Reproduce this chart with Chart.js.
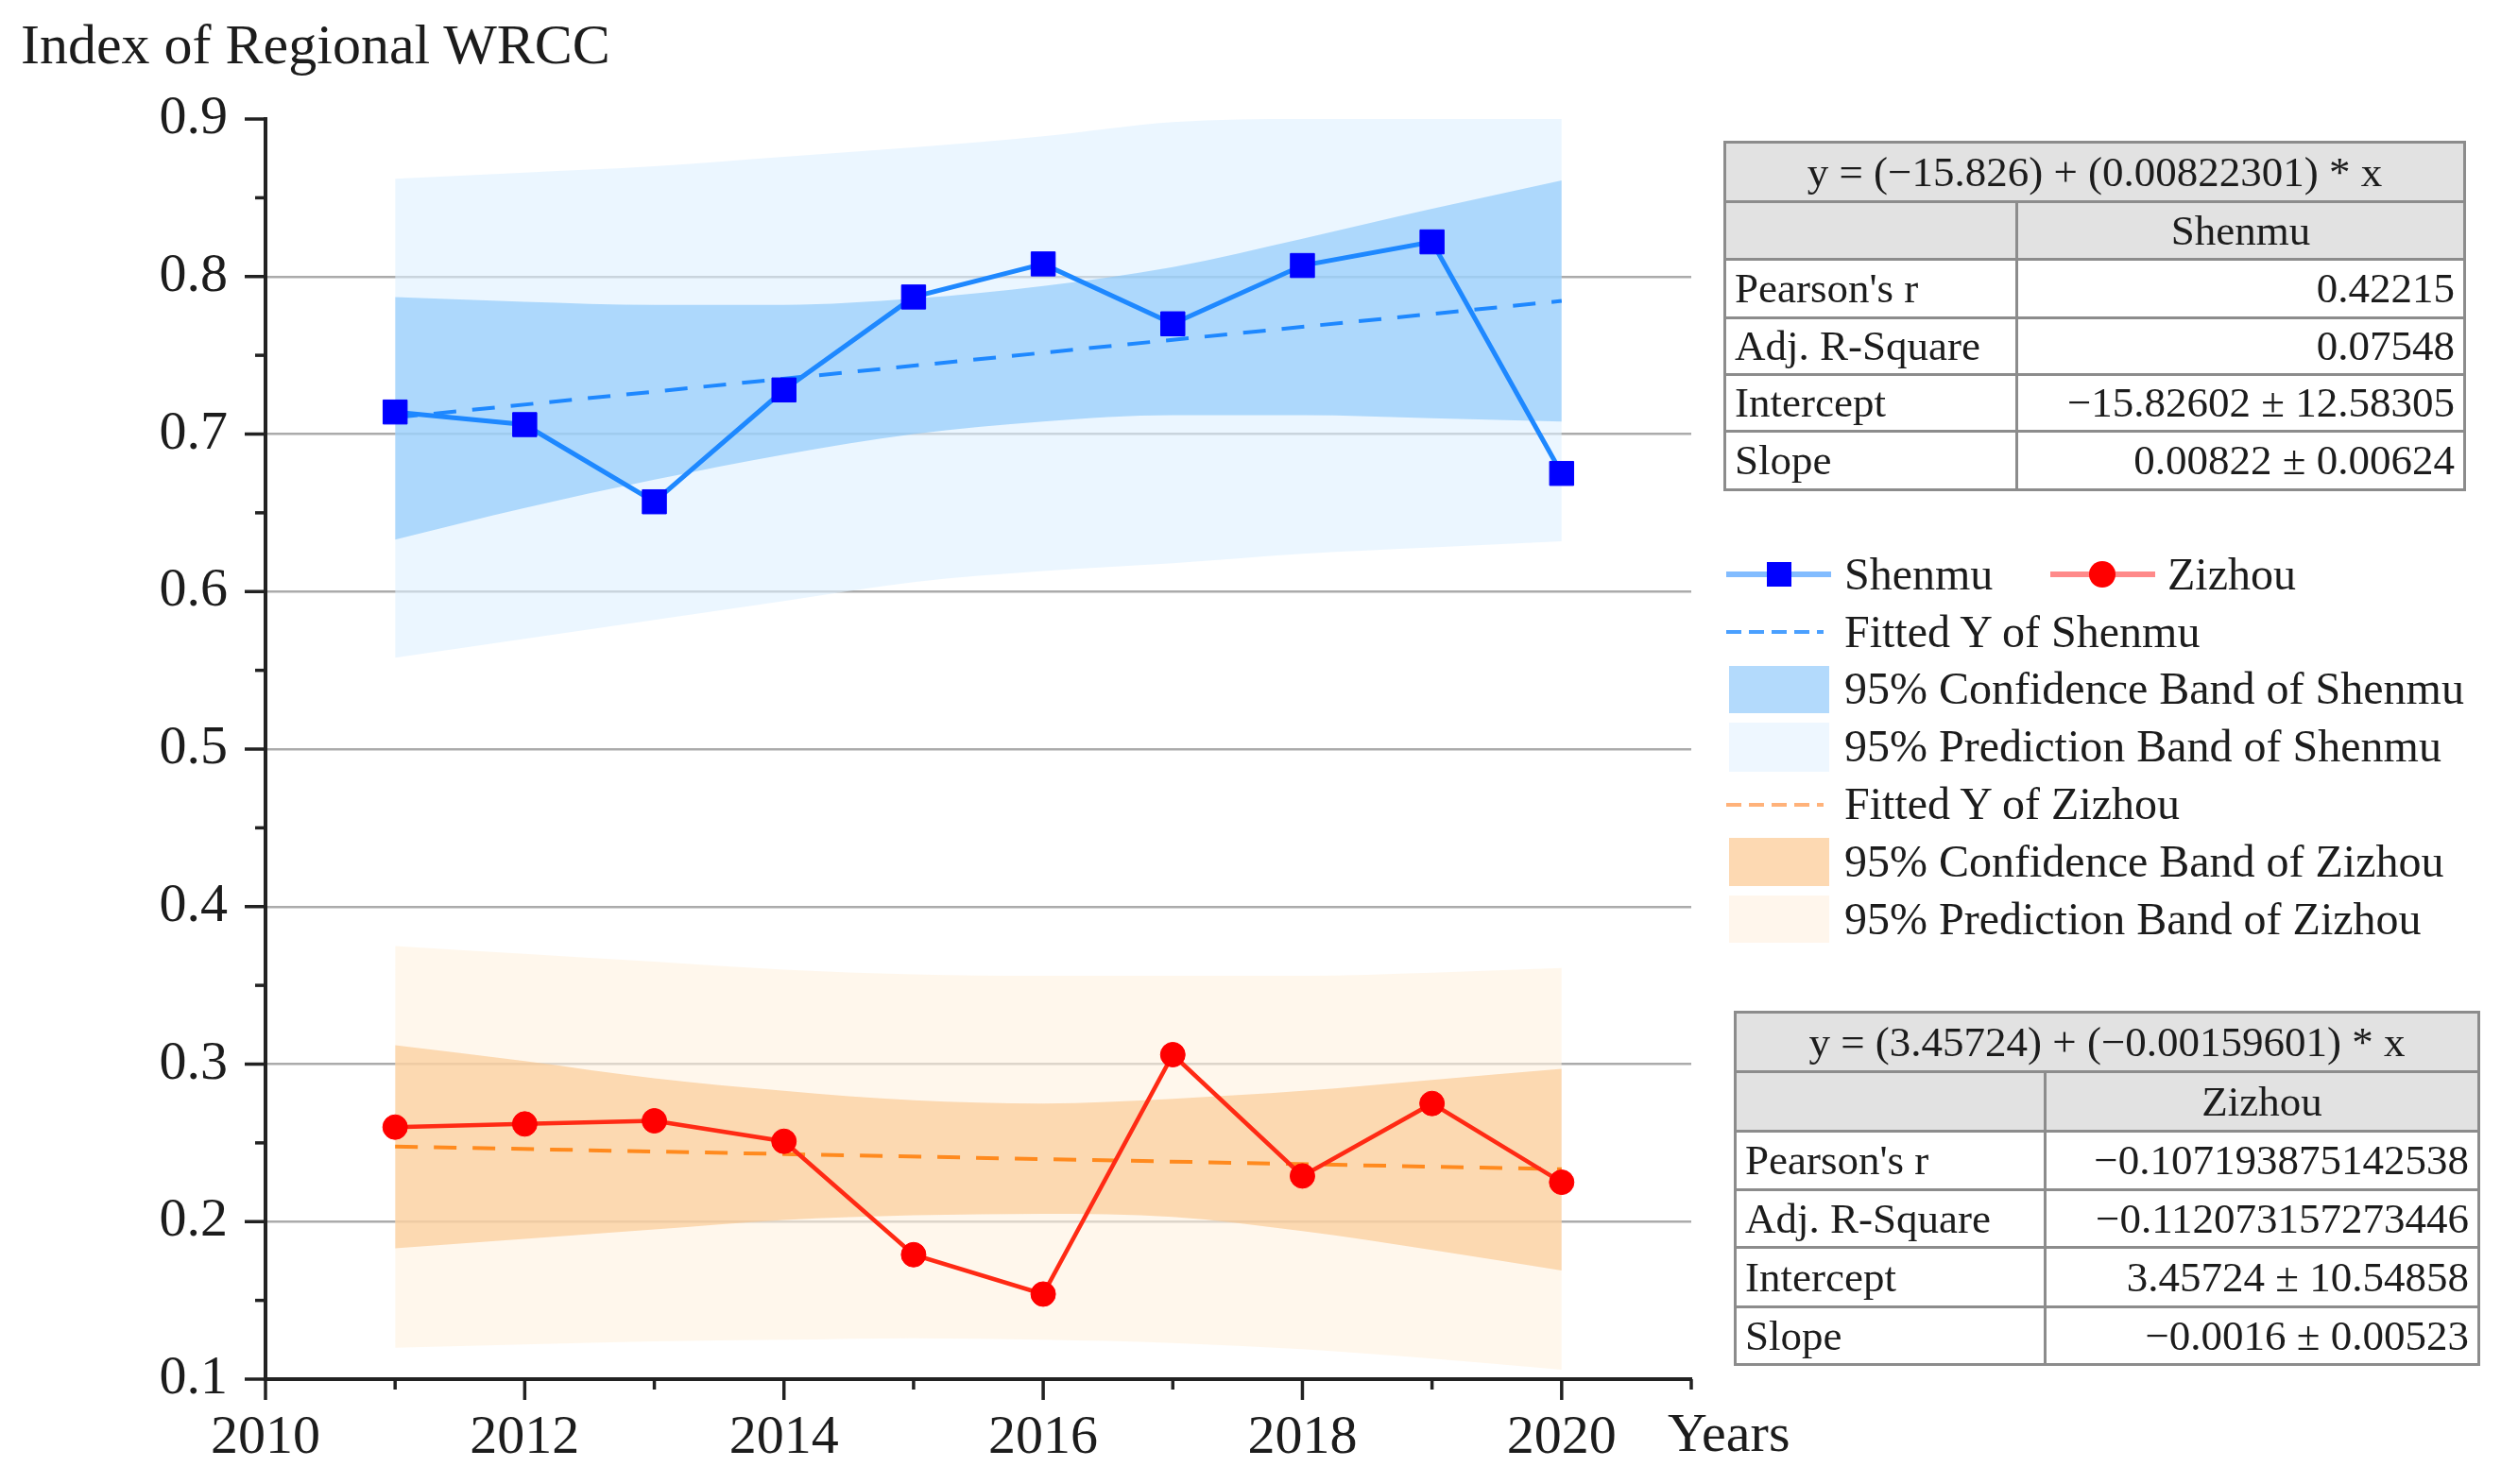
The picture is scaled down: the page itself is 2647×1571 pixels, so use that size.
<!DOCTYPE html>
<html>
<head>
<meta charset="utf-8">
<script src="https://cdn.jsdelivr.net/npm/chart.js@4.4.1/dist/chart.umd.min.js"></script>
<style>
  html, body { margin: 0; padding: 0; background: #fff; }
  #wrap { position: relative; width: 2647px; height: 1571px; font-family: "Liberation Serif", serif; color: #1c1c1c; }
  #chart { position: absolute; left: 0; top: 0; }
  .txt { position: absolute; white-space: nowrap; line-height: 1; }
  .sym { position: absolute; }
  table.stats { position: absolute; border-collapse: collapse; table-layout: fixed; font-size: 45px; }
  table.stats td { border: 3px solid #8c8c8c; padding: 0 9px; white-space: nowrap; line-height: 1; }
  table.stats tr.head td { background: #e2e2e2; text-align: center; }
  table.stats td.val { text-align: right; }
</style>
</head>
<body>
<div id="wrap">
  <canvas id="chart" width="2647" height="1571"></canvas>
  <div class="txt" style="left:22px; top:17px; font-size:60px;">Index of Regional WRCC</div>
  <div class="txt" style="left:1765px; top:1488px; font-size:58px;">Years</div>
  <div id="legend"></div>
  <table class="stats" id="tab1" style="left:1824px; top:149px; width:786px;"></table>
  <table class="stats" id="tab2" style="left:1835px; top:1070px; width:790px;"></table>
</div>
<script>
// values
const years = [2011, 2012, 2013, 2014, 2015, 2016, 2017, 2018, 2019, 2020];
const shenmu = [0.714, 0.706, 0.657, 0.728, 0.787, 0.808, 0.770, 0.807, 0.822, 0.675];
const zizhou = [0.260, 0.262, 0.264, 0.251, 0.179, 0.154, 0.306, 0.229, 0.275, 0.225];

// fitted lines (end points)
const fitYears = [2011, 2020];
const shenmuFit = [0.7105, 0.7845];
const zizhouFit = [0.2477, 0.2333];

// 95% bands, read at every year
const shenmuConfUpper = [0.787, 0.784, 0.782, 0.782, 0.786, 0.794, 0.806, 0.824, 0.843, 0.861];
const shenmuConfLower = [0.633, 0.653, 0.671, 0.687, 0.700, 0.708, 0.712, 0.712, 0.710, 0.708];
const shenmuPredUpper = [0.862, 0.866, 0.870, 0.876, 0.882, 0.889, 0.898, 0.900, 0.900, 0.900];
const shenmuPredLower = [0.558, 0.570, 0.582, 0.594, 0.606, 0.613, 0.618, 0.624, 0.628, 0.632];
const zizhouConfUpper = [0.312, 0.302, 0.291, 0.283, 0.277, 0.275, 0.278, 0.283, 0.290, 0.297];
const zizhouConfLower = [0.183, 0.189, 0.195, 0.201, 0.204, 0.205, 0.203, 0.194, 0.182, 0.169];
const zizhouPredUpper = [0.375, 0.370, 0.365, 0.360, 0.357, 0.356, 0.356, 0.356, 0.358, 0.361];
const zizhouPredLower = [0.120, 0.122, 0.124, 0.125, 0.126, 0.125, 0.123, 0.119, 0.113, 0.106];

const xLabelYears = [2010, 2012, 2014, 2016, 2018, 2020];

const shenmuEquation = "y = (\u221215.826) + (0.00822301) * x";
const zizhouEquation = "y = (3.45724) + (\u22120.00159601) * x";
const statNames = ["Pearson's r", "Adj. R-Square", "Intercept", "Slope"];
const shenmuStats = ["0.42215", "0.07548", "\u221215.82602 \u00b1 12.58305", "0.00822 \u00b1 0.00624"];
const zizhouStats = ["\u22120.107193875142538", "\u22120.112073157273446", "3.45724 \u00b1 10.54858", "\u22120.0016 \u00b1 0.00523"];

function pts(xs, ys) {
  return xs.map((x, i) => ({ x: x, y: ys[i] }));
}

// higher order is drawn first, so prediction bands (4) sit under confidence bands (3)
function band(data, target, color, order) {
  return {
    data: data,
    fill: target,
    backgroundColor: color,
    borderWidth: 0,
    pointRadius: 0,
    tension: 0.3,
    cubicInterpolationMode: 'monotone',
    order: order,
  };
}

function isMajorY(v) {
  return Math.abs(v * 10 - Math.round(v * 10)) < 1e-6;
}

// minor / major tick marks, drawn outside the axes
const axisTicks = {
  id: 'axisTicks',
  afterDraw(chart) {
    const ctx = chart.ctx;
    const x = chart.scales.x;
    const y = chart.scales.y;
    ctx.save();
    ctx.strokeStyle = '#222';
    ctx.lineWidth = 3.5;
    y.ticks.forEach(t => {
      const py = y.getPixelForValue(t.value);
      ctx.beginPath();
      ctx.moveTo(y.right, py);
      ctx.lineTo(y.right - (isMajorY(t.value) ? 22 : 11), py);
      ctx.stroke();
    });
    x.ticks.forEach(t => {
      const px = x.getPixelForValue(t.value);
      ctx.beginPath();
      ctx.moveTo(px, x.top);
      ctx.lineTo(px, x.top + (t.value % 2 === 0 ? 22 : 11));
      ctx.stroke();
    });
    ctx.restore();
  }
};

const ctx = document.getElementById('chart').getContext('2d');

new Chart(ctx, {
  type: 'line',
  data: {
    datasets: [
      // 0-3 Shenmu bands
      band(pts(years, shenmuPredUpper), 3, 'rgba(222,240,255,0.6)', 4),
      band(pts(years, shenmuConfUpper), 2, 'rgba(132,196,250,0.6)', 3),
      band(pts(years, shenmuConfLower), false, 'transparent', 3),
      band(pts(years, shenmuPredLower), false, 'transparent', 4),
      // 4-7 Zizhou bands
      band(pts(years, zizhouPredUpper), 7, 'rgba(255,242,223,0.6)', 4),
      band(pts(years, zizhouConfUpper), 6, 'rgba(250,197,139,0.6)', 3),
      band(pts(years, zizhouConfLower), false, 'transparent', 3),
      band(pts(years, zizhouPredLower), false, 'transparent', 4),
      {
        label: 'Fitted Y of Shenmu',
        data: pts(fitYears, shenmuFit),
        borderColor: '#1E88FF',
        borderWidth: 4,
        borderDash: [24, 17],
        pointRadius: 0,
        fill: false,
        order: 1,
      },
      {
        label: 'Fitted Y of Zizhou',
        data: pts(fitYears, zizhouFit),
        borderColor: '#FF8A1E',
        borderWidth: 4,
        borderDash: [24, 17],
        pointRadius: 0,
        fill: false,
        order: 1,
      },
      {
        label: 'Shenmu',
        data: pts(years, shenmu),
        borderColor: '#1E88FF',
        borderWidth: 5,
        pointStyle: 'rect',
        pointRadius: 18,
        pointBackgroundColor: '#0000FF',
        pointBorderColor: '#0000FF',
        pointBorderWidth: 1,
        fill: false,
        order: 0,
      },
      {
        label: 'Zizhou',
        data: pts(years, zizhou),
        borderColor: '#FF2A14',
        borderWidth: 4.5,
        pointStyle: 'circle',
        pointRadius: 13,
        pointBackgroundColor: '#FF0000',
        pointBorderColor: '#FF0000',
        pointBorderWidth: 1,
        fill: false,
        order: 0,
      },
    ],
  },
  options: {
    responsive: false,
    animation: false,
    devicePixelRatio: 1,
    layout: {
      padding: { top: 126, right: 857, left: 0, bottom: 0 },
    },
    plugins: {
      legend: { display: false },
      tooltip: { enabled: false },
    },
    scales: {
      x: {
        type: 'linear',
        min: 2010,
        max: 2021,
        afterFit: function(scale) { scale.height = 111; },
        border: { color: '#222', width: 4 },
        grid: { drawOnChartArea: false, drawTicks: false },
        ticks: {
          stepSize: 1,
          autoSkip: false,
          maxRotation: 0,
          padding: 28,
          color: '#1c1c1c',
          font: { family: 'Liberation Serif', size: 58 },
          callback: function(value) {
            return xLabelYears.includes(value) ? String(value) : '';
          },
        },
      },
      y: {
        min: 0.1,
        max: 0.9,
        afterFit: function(scale) { scale.width = 281; },
        border: { color: '#222', width: 4 },
        grid: {
          drawTicks: false,
          lineWidth: 2.5,
          color: function(c) {
            const v = c.tick ? c.tick.value : 0;
            return (isMajorY(v) && v > 0.15 && v < 0.85) ? '#ababab' : 'rgba(0,0,0,0)';
          },
        },
        ticks: {
          stepSize: 0.05,
          autoSkip: false,
          padding: 40,
          color: '#1c1c1c',
          font: { family: 'Liberation Serif', size: 58 },
          callback: function(value) {
            return isMajorY(value) ? value.toFixed(1) : '';
          },
        },
      },
    },
  },
  plugins: [axisTicks],
});

// legend built from positioned HTML pieces
const legendRows = [
  { text: 'Shenmu', left: 1952, top: 584 },
  { text: 'Zizhou', left: 2294, top: 584 },
  { text: 'Fitted Y of Shenmu', left: 1952, top: 645 },
  { text: '95% Confidence Band of Shenmu', left: 1952, top: 705 },
  { text: '95% Prediction Band of Shenmu', left: 1952, top: 766 },
  { text: 'Fitted Y of Zizhou', left: 1952, top: 827 },
  { text: '95% Confidence Band of Zizhou', left: 1952, top: 888 },
  { text: '95% Prediction Band of Zizhou', left: 1952, top: 949 },
];
const legendSymbols = [
  'left:1827px;top:605px;width:111px;height:6px;background:#82BCFF;',
  'left:1870px;top:595px;width:26px;height:26px;background:#0000FF;',
  'left:2170px;top:605px;width:111px;height:6px;background:#FF8A8A;',
  'left:2211px;top:594px;width:28px;height:28px;border-radius:50%;background:#FF0000;',
  'left:1827px;top:667px;width:103px;height:4px;background:repeating-linear-gradient(90deg,#4AA0FF 0 16px,transparent 16px 24px);',
  'left:1830px;top:705px;width:106px;height:50px;background:#B3DAFC;',
  'left:1830px;top:765px;width:106px;height:52px;background:#EEF7FF;',
  'left:1827px;top:850px;width:103px;height:4px;background:repeating-linear-gradient(90deg,#FFB27A 0 16px,transparent 16px 24px);',
  'left:1830px;top:887px;width:106px;height:51px;background:#FDD9B2;',
  'left:1830px;top:948px;width:106px;height:50px;background:#FFF6EC;',
];
const legendEl = document.getElementById('legend');
legendSymbols.forEach(s => {
  const d = document.createElement('div');
  d.className = 'sym';
  d.style.cssText = s;
  legendEl.appendChild(d);
});
legendRows.forEach(r => {
  const d = document.createElement('div');
  d.className = 'txt';
  d.style.cssText = 'left:' + r.left + 'px;top:' + r.top + 'px;font-size:48px;';
  d.textContent = r.text;
  legendEl.appendChild(d);
});

function fillTable(id, equation, name, values, col1, heights) {
  const t = document.getElementById(id);
  let html = '<colgroup><col style="width:' + col1 + 'px"><col></colgroup>';
  html += '<tr class="head" style="height:' + heights[0] + 'px"><td colspan="2">' + equation + '</td></tr>';
  html += '<tr class="head" style="height:' + heights[1] + 'px"><td></td><td>' + name + '</td></tr>';
  statNames.forEach((n, i) => {
    html += '<tr style="height:' + heights[i + 2] + 'px"><td>' + n + '</td><td class="val">' + values[i] + '</td></tr>';
  });
  t.innerHTML = html;
}
fillTable('tab1', shenmuEquation, 'Shenmu', shenmuStats, 309, [63, 61, 62, 60, 60, 62]);
fillTable('tab2', zizhouEquation, 'Zizhou', zizhouStats, 328, [63, 63, 62, 61, 63, 61]);
</script>
</body>
</html>
